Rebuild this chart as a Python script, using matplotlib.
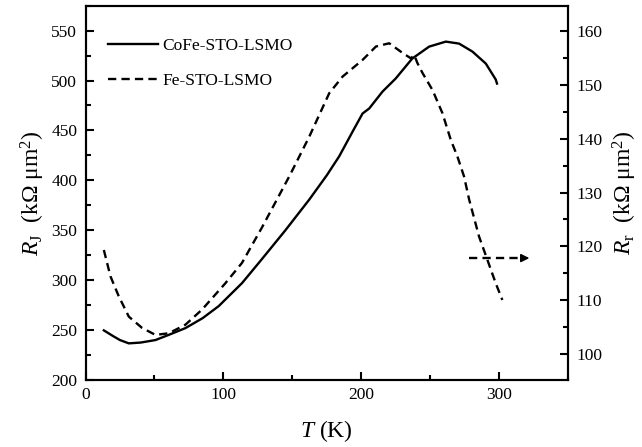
import matplotlib
matplotlib.use("Agg")
import matplotlib.pyplot as plt
from matplotlib.ticker import MultipleLocator

plt.rcParams['font.family'] = ['Liberation Serif', 'DejaVu Serif']
plt.rcParams['mathtext.fontset'] = 'custom'
plt.rcParams['mathtext.rm'] = 'Liberation Serif'
plt.rcParams['mathtext.it'] = 'Liberation Serif:italic'

# CoFe-STO-LSMO (left axis, R_J)
t_cofe = [13.3, 20, 25, 31.4, 40, 50.7, 60, 72.5, 85, 96.6, 113.5, 127.3, 145,
          162.3, 175, 184, 195, 201, 205.8, 215.5, 225, 237, 249.3, 261.4, 271,
          280.7, 290.4, 297.6, 298.5]
r_cofe = [249.7, 244, 240, 236.7, 237.5, 240, 245, 252, 262, 274, 297, 320, 350,
          380.7, 405, 424, 452, 467, 472, 489, 502, 522, 534, 539, 537,
          529, 517, 501, 497]

# Fe-STO-LSMO (right axis, R_r)
t_fe = [13.3, 18.1, 24.1, 31.4, 41, 50.7, 60.4, 72.5, 84.5, 101.4, 113.5, 128,
        147.8, 162.3, 176.8, 186.5, 201, 210.7, 220.3, 230, 236, 238.5, 240.8,
        244.4, 251.7, 258.9, 265, 269.8, 274.6, 278.3, 285.5, 291.5, 297.6, 302.4]
r_fe = [119.3, 114.4, 110.7, 106.9, 104.8, 103.5, 103.8, 105.4, 108.2, 113.1,
        116.9, 123.5, 133, 140.4, 148.5, 151.6, 154.7, 157.2, 157.8, 156, 155.0,
        155.6, 154.1, 152.3, 149.1, 144.8, 139.8, 136.7, 133, 128.7, 121.8,
        117.5, 113.1, 110]

arrow_y = 117.8
arrow_x0, arrow_x1 = 278, 324

fig = plt.figure(figsize=(6.42, 4.47), dpi=100)
ax = fig.add_axes([0.1332, 0.1499, 0.7515, 0.8374])
ax2 = ax.twinx()

dash = (0, (3.5, 2.2))
ax.plot(t_cofe, r_cofe, color='k', lw=1.7, label='CoFe-STO-LSMO')
ax2.plot(t_fe, r_fe, color='k', lw=1.7, ls=dash)
ax.plot([], [], color='k', lw=1.7, ls=dash, label='Fe-STO-LSMO')

ax2.plot([arrow_x0, arrow_x1 - 6], [arrow_y, arrow_y], color='k', lw=1.7, ls=dash)
ax2.annotate('', xy=(arrow_x1, arrow_y), xytext=(arrow_x1 - 8, arrow_y),
             arrowprops=dict(arrowstyle='-|>', color='k', lw=1.2,
                             mutation_scale=12))

ax.set_xlim(0, 350)
ax.set_ylim(200, 575)
ax2.set_ylim(95.1, 164.8)

ax.xaxis.set_major_locator(MultipleLocator(100))
ax.xaxis.set_minor_locator(MultipleLocator(50))
ax.yaxis.set_major_locator(MultipleLocator(50))
ax.yaxis.set_minor_locator(MultipleLocator(25))
ax2.yaxis.set_major_locator(MultipleLocator(10))
ax2.yaxis.set_minor_locator(MultipleLocator(5))

for a in (ax, ax2):
    a.tick_params(which='both', direction='in', labelsize=12.5, width=1.5, pad=6)
    a.tick_params(which='major', length=6)
    a.tick_params(which='minor', length=3.5)
    for s in a.spines.values():
        s.set_linewidth(1.5)
ax.tick_params(axis='x', pad=5)

ax.set_xlabel('$T$ (K)', fontsize=17, labelpad=11)
ax.set_ylabel('$R_\\mathrm{J}$  (k\u03a9 \u03bcm$^2$)', fontsize=17, labelpad=3)
ax2.set_ylabel('$R_\\mathrm{r}$  (k\u03a9 \u03bcm$^2$)', fontsize=17, labelpad=6)

ax.legend(loc='upper left', frameon=False, fontsize=12.5, handlelength=2.9,
          handletextpad=0.25, bbox_to_anchor=(0.014, 0.955), labelspacing=1.05)

fig.savefig('out.png', dpi=100)
